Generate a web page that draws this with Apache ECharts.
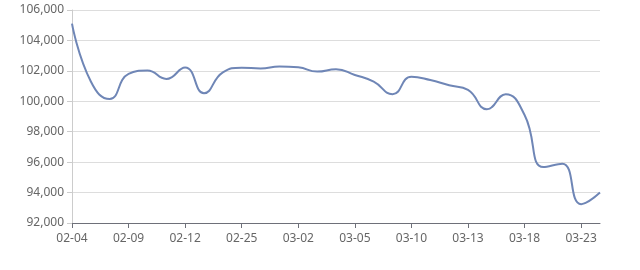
<!DOCTYPE html>
<html>
<head>
<meta charset="utf-8">
<script src="https://cdn.jsdelivr.net/npm/echarts@6/dist/echarts.min.js"></script>
<style>html,body{margin:0;padding:0;background:#fff}#c{width:640px;height:270px}</style>
</head>
<body>
<div id="c"></div>
<script>
var categories = ['02-04','02-05','02-08','02-09','02-10','02-11','02-12','02-22','02-23','02-25','02-26','02-29','03-02','03-03','03-04','03-05','03-08','03-09','03-10','03-11','03-12','03-13','03-16','03-17','03-18','03-19','03-20','03-23','03-24'];
var prices = [105100,101300,100150,101800,102020,101470,102220,100530,101900,102210,102150,102280,102230,101950,102100,101730,101290,100470,101620,101400,101050,100750,99480,100460,99100,95680,95900,93240,94000];
var yTicks = {min:92000, max:106000, interval:2000};

var chart = echarts.init(document.getElementById('c'));
chart.setOption({
  animation:false,
  grid:{left:72,right:40,top:10,bottom:47},
  xAxis:{
    type:'category', data:categories, boundaryGap:false,
    axisLine:{lineStyle:{color:'#6E7079'}},
    axisTick:{interval:2, lineStyle:{color:'#6E7079'}},
    axisLabel:{interval:2, color:'#666', fontSize:12, margin:10, fontFamily:'Noto Sans'}
  },
  yAxis:{
    type:'value', min:yTicks.min, max:yTicks.max, interval:yTicks.interval,
    axisLine:{show:true, lineStyle:{color:'#ccc'}},
    axisTick:{show:true, lineStyle:{color:'#ccc'}},
    axisLabel:{color:'#666', fontSize:12, fontFamily:'Noto Sans',
      formatter:function(v){return v.toLocaleString('en-US');}},
    splitLine:{lineStyle:{color:'#ddd'}}
  },
  series:[{
    type:'line', data:prices, smooth:true, symbol:'none',
    lineStyle:{color:'#6F86B6', width:2}
  }]
});
</script>
</body>
</html>
